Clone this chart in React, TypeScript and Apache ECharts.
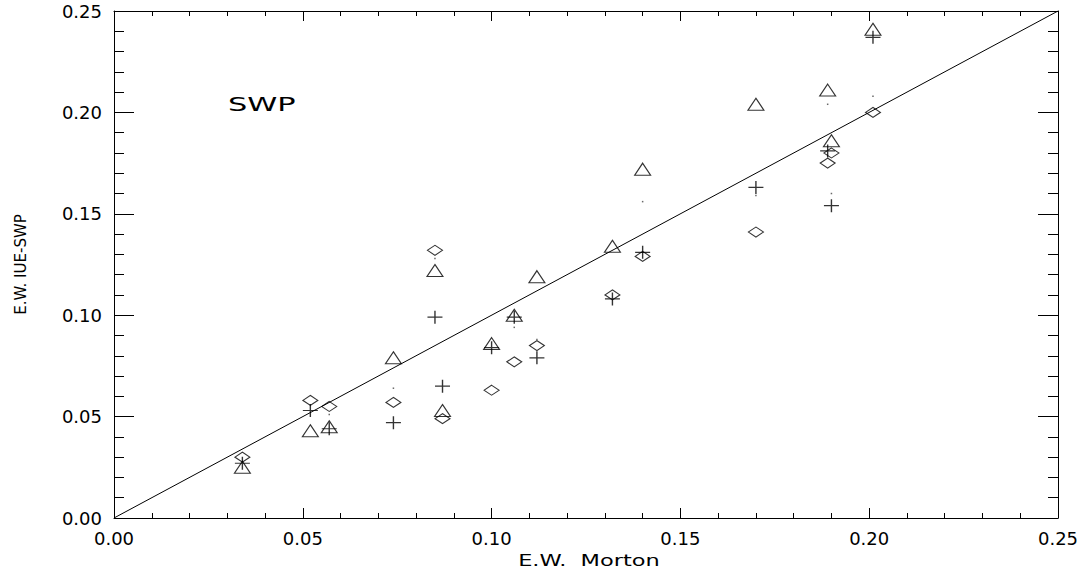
import React, { useEffect, useRef } from "react";
import * as echarts from "echarts";

const xMorton = [0.034, 0.052, 0.057, 0.074, 0.085, 0.087, 0.100, 0.106, 0.112, 0.132, 0.140, 0.170, 0.189, 0.190, 0.201];
const yTriangle = [0.025, 0.043, 0.045, 0.079, 0.122, 0.053, 0.086, 0.100, 0.119, 0.134, 0.172, 0.204, 0.211, 0.186, 0.241];
const yDiamond = [0.030, 0.058, 0.055, 0.057, 0.132, 0.049, 0.063, 0.077, 0.085, 0.110, 0.129, 0.141, 0.175, 0.180, 0.200];
const yPlus = [0.027, 0.053, 0.044, 0.047, 0.099, 0.065, 0.084, 0.099, 0.079, 0.108, 0.131, 0.163, 0.181, 0.154, 0.237];
const yDot: (number | null)[] = [null, null, 0.051, 0.064, 0.128, null, null, 0.094, 0.088, null, 0.156, 0.159, 0.204, 0.160, 0.208];
const diagonal = [[0, 0], [0.25, 0.25]];
const tickLabels = ["0.00", "0.05", "0.10", "0.15", "0.20", "0.25"];
const xTitle = "E.W.  Morton";
const yTitle = "E.W. IUE-SWP";
const panelLabel = "SWP";

const FONT = "DejaVu Sans";

function pairs(ys: (number | null)[]) {
  const out: number[][] = [];
  ys.forEach((y, i) => {
    if (y !== null) out.push([xMorton[i], y]);
  });
  return out;
}

export default function App() {
  const ref = useRef<HTMLDivElement>(null);
  useEffect(() => {
    if (!ref.current) return;
    const chart = echarts.init(ref.current, undefined, { renderer: "svg" });
    const fmt = (v: number) => tickLabels[Math.round(v / 0.05)] ?? v.toFixed(2);
    const baseAxis = {
      min: 0,
      max: 0.25,
      interval: 0.05,
      splitLine: { show: false },
      axisLine: { show: true, onZero: false, lineStyle: { color: "#000", width: 1 } },
    };
    const xTick = { show: true, inside: true, length: 10, lineStyle: { color: "#000", width: 1 } };
    const xMinor = { show: true, splitNumber: 5, length: 5, lineStyle: { color: "#000", width: 1 } };
    const yTick = { show: true, inside: true, length: 20, lineStyle: { color: "#000", width: 1 } };
    const yMinor = { show: true, splitNumber: 5, length: 10, lineStyle: { color: "#000", width: 1 } };
    const openStyle = { color: "rgba(0,0,0,0)", borderColor: "#000", borderWidth: 1.1 };
    const labelStyle = { show: true, margin: 11, color: "#000", fontFamily: FONT, fontSize: 18, formatter: fmt };
    chart.setOption({
      animation: false,
      backgroundColor: "#fff",
      grid: { left: 114, right: 32, top: 11, bottom: 55, containLabel: false },
      xAxis: [
        {
          ...baseAxis,
          type: "value",
          position: "bottom",
          axisTick: xTick,
          minorTick: xMinor,
          axisLabel: labelStyle,
        },
        {
          ...baseAxis,
          type: "value",
          position: "top",
          axisTick: xTick,
          minorTick: xMinor,
          axisLabel: { show: false },
        },
      ],
      yAxis: [
        {
          ...baseAxis,
          type: "value",
          position: "left",
          axisTick: yTick,
          minorTick: yMinor,
          axisLabel: { ...labelStyle, margin: 12 },
          name: yTitle,
          nameLocation: "middle",
          nameRotate: 90,
          nameGap: 86,
          nameTextStyle: { color: "#000", fontFamily: FONT, fontSize: 15 },
        },
        {
          ...baseAxis,
          type: "value",
          position: "right",
          axisTick: yTick,
          minorTick: yMinor,
          axisLabel: { show: false },
        },
      ],
      graphic: [
        {
          type: "text",
          x: 228,
          y: 104,
          scaleX: 1.6,
          style: {
            text: panelLabel,
            fill: "#000",
            font: `19px "${FONT}"`,
            textAlign: "left",
            textVerticalAlign: "middle",
          },
        },
        {
          type: "text",
          x: 589,
          y: 561,
          scaleX: 1.5,
          style: {
            text: xTitle,
            fill: "#000",
            font: `15px "${FONT}"`,
            textAlign: "center",
            textVerticalAlign: "middle",
          },
        },
      ],
      series: [
        {
          type: "line",
          data: diagonal,
          symbol: "none",
          lineStyle: { color: "#000", width: 1 },
          silent: true,
        },
        {
          type: "scatter",
          data: pairs(yTriangle),
          symbol: "triangle",
          symbolSize: [16, 12],
          itemStyle: openStyle,
        },
        {
          type: "scatter",
          data: pairs(yDiamond),
          symbol: "diamond",
          symbolSize: [15, 10],
          itemStyle: openStyle,
        },
        {
          type: "scatter",
          data: pairs(yPlus),
          symbol: "path://M0,6 L16,6 M8,0 L8,12",
          symbolSize: [15, 13],
          itemStyle: { color: "rgba(0,0,0,0)", borderColor: "#000", borderWidth: 1.3 },
        },
        {
          type: "scatter",
          data: pairs(yDot),
          symbol: "rect",
          symbolSize: 1.5,
          itemStyle: { color: "#444" },
        },
      ],
    });
    return () => chart.dispose();
  }, []);
  return (
    <div
      ref={ref}
      style={{ position: "fixed", left: 0, top: 0, width: 1090, height: 573, background: "#fff" }}
    />
  );
}
